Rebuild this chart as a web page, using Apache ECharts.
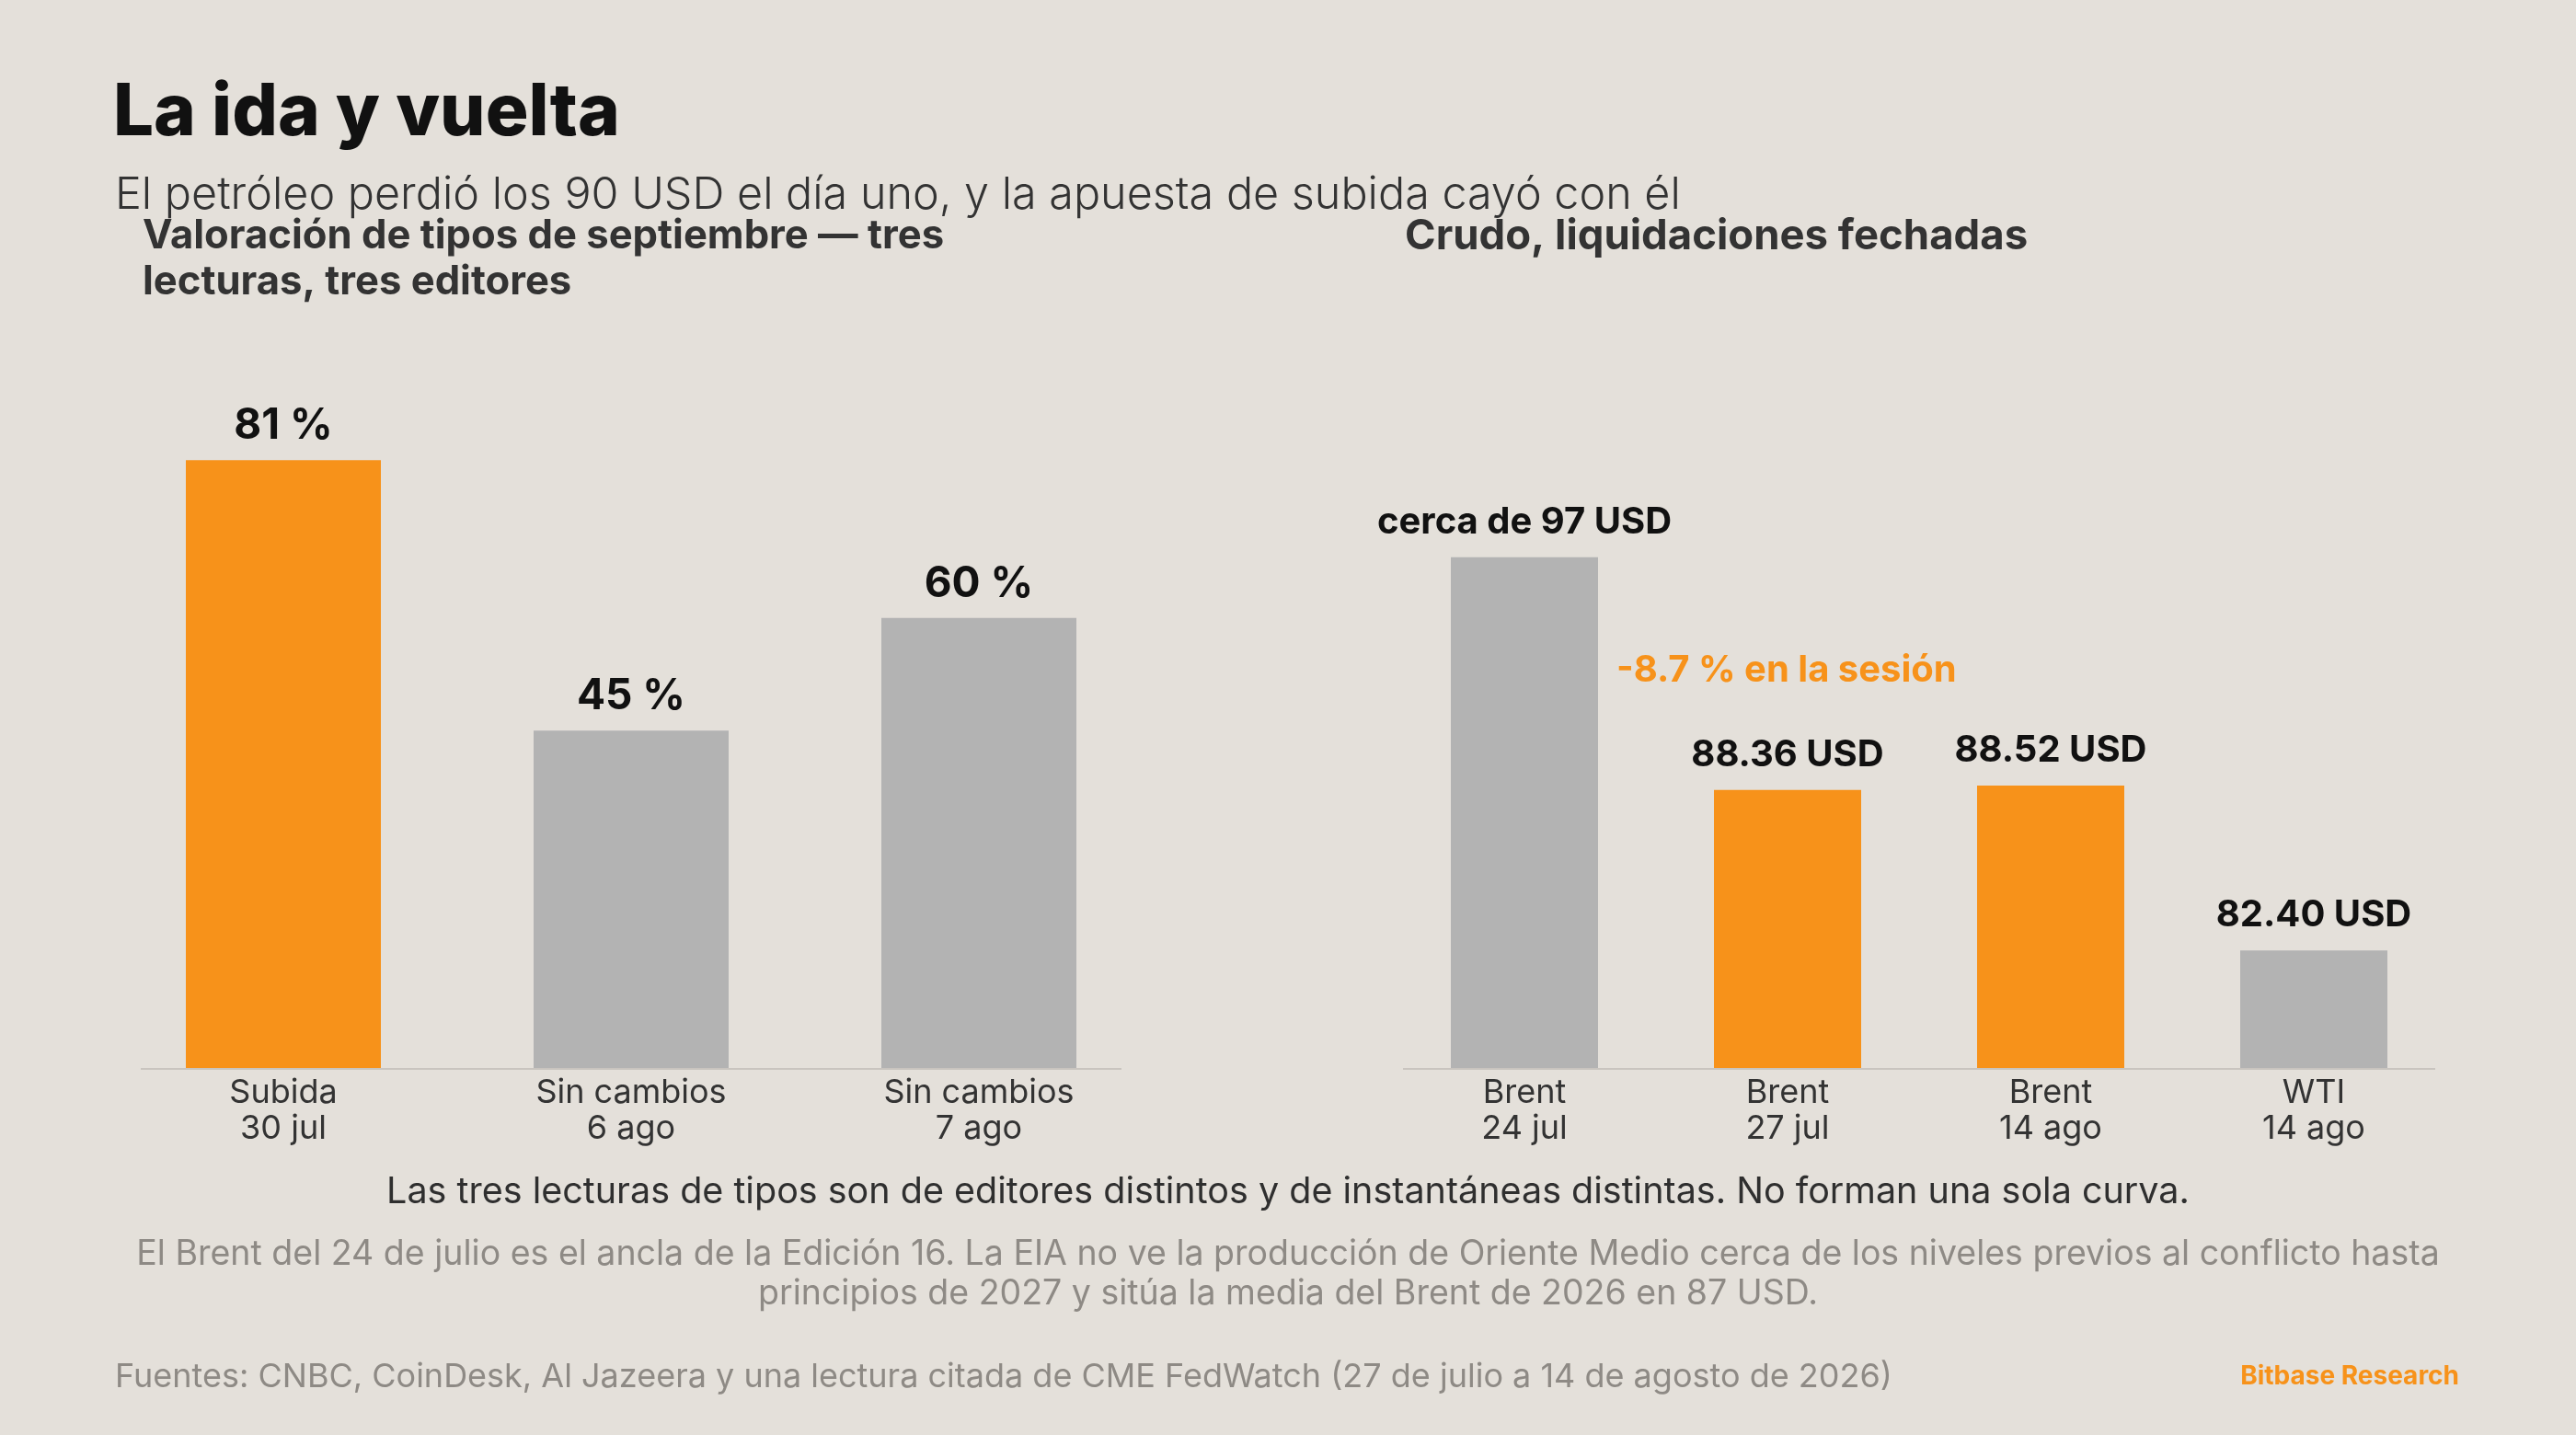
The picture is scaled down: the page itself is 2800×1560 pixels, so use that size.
<!DOCTYPE html>
<html><head><meta charset="utf-8">
<script src="https://cdn.jsdelivr.net/npm/echarts@6/dist/echarts.min.js"></script>
<style>html,body{margin:0;padding:0;background:#e4e0da;}#c{width:2800px;height:1560px;}</style>
</head><body><div id="c"></div>
<script>
// ---- data ----
const rateCategories = ['Subida\n30 jul', 'Sin cambios\n6 ago', 'Sin cambios\n7 ago'];
const rateValues = [81, 45, 60];
const rateLabels = ['81 %', '45 %', '60 %'];
const rateHighlight = [true, false, false];

const oilCategories = ['Brent\n24 jul', 'Brent\n27 jul', 'Brent\n14 ago', 'WTI\n14 ago'];
const oilValues = [97, 88.36, 88.52, 82.40];
const oilLabels = ['cerca de 97 USD', '88.36 USD', '88.52 USD', '82.40 USD'];
const oilHighlight = [false, true, true, false];

const ORANGE = '#f7921a', GREY = '#b3b3b3', FONT = 'Inter, "Noto Sans", sans-serif';
const AXISCOL = '#c9c4bf';

const chart = echarts.init(document.getElementById('c'));
const mk = (vals, labels, hi) => vals.map((v, i) => ({
  value: v,
  itemStyle: { color: hi[i] ? ORANGE : GREY },
  label: { formatter: labels[i] }
}));

chart.setOption({
  backgroundColor: '#e4e0da',
  textStyle: { fontFamily: FONT },
  animation: false,
  title: [
    { text: 'La ida y vuelta', left: 123, top: 85, padding: 0,
      textStyle: { fontSize: 78, fontWeight: 800, color: '#111', lineHeight: 78, fontFamily: FONT } },
    { text: 'El petróleo perdió los 90 USD el día uno, y la apuesta de subida cayó con él', left: 125, top: 188, padding: 0,
      textStyle: { fontSize: 48.5, fontWeight: 300, color: '#333', lineHeight: 48, fontFamily: FONT } },
    { text: 'Valoración de tipos de septiembre — tres\nlecturas, tres editores', left: 155, top: 232, padding: 0,
      textStyle: { fontSize: 43.6, fontWeight: 'bold', color: '#333', lineHeight: 50, fontFamily: FONT } },
    { text: 'Crudo, liquidaciones fechadas', left: 1527, top: 232, padding: 0,
      textStyle: { fontSize: 45.5, fontWeight: 'bold', color: '#333', lineHeight: 50, fontFamily: FONT } }
  ],
  grid: [
    { left: 119, width: 1134, top: 345, bottom: 398 },
    { left: 1514, width: 1144, top: 518, bottom: 398 }
  ],
  xAxis: [
    { type: 'category', gridIndex: 0, data: rateCategories,
      axisLine: { show: false }, axisTick: { show: false },
      axisLabel: { fontSize: 36, color: '#333', lineHeight: 39, margin: 7, fontFamily: FONT } },
    { type: 'category', gridIndex: 1, data: oilCategories,
      axisLine: { show: false }, axisTick: { show: false },
      axisLabel: { fontSize: 36, color: '#333', lineHeight: 39, margin: 7, fontFamily: FONT } }
  ],
  yAxis: [
    { type: 'value', gridIndex: 0, min: 0, max: 100, show: false, splitLine: { show: false } },
    { type: 'value', gridIndex: 1, min: 78, max: 100, show: false, splitLine: { show: false } }
  ],
  series: [
    { type: 'bar', xAxisIndex: 0, yAxisIndex: 0, barWidth: 212,
      data: mk(rateValues, rateLabels, rateHighlight),
      label: { show: true, position: 'top', distance: 14, fontSize: 46, fontWeight: 'bold', color: '#111', fontFamily: FONT } },
    { type: 'bar', xAxisIndex: 1, yAxisIndex: 1, barWidth: 160,
      data: mk(oilValues, oilLabels, oilHighlight),
      label: { show: true, position: 'top', distance: 18, fontSize: 40, fontWeight: 'bold', color: '#111', fontFamily: FONT } }
  ],
  graphic: [
    { type: 'line', z: 10, shape: { x1: 153, y1: 1162, x2: 1219, y2: 1162 }, style: { stroke: AXISCOL, lineWidth: 2 } },
    { type: 'line', z: 10, shape: { x1: 1525, y1: 1162, x2: 2647, y2: 1162 }, style: { stroke: AXISCOL, lineWidth: 2 } },
    { type: 'text', left: 1757, top: 709,
      style: { text: '-8.7 % en la sesión', fontSize: 40, fontWeight: 'bold', fill: ORANGE, fontFamily: FONT } },
    { type: 'text', x: 1400, y: 1296,
      style: { text: 'Las tres lecturas de tipos son de editores distintos y de instantáneas distintas. No forman una sola curva.',
        fontSize: 39.5, fill: '#2f2f2f', align: 'center', verticalAlign: 'middle', fontFamily: FONT } },
    { type: 'text', x: 1400, y: 1385,
      style: { text: 'El Brent del 24 de julio es el ancla de la Edición 16. La EIA no ve la producción de Oriente Medio cerca de los niveles previos al conflicto hasta\nprincipios de 2027 y sitúa la media del Brent de 2026 en 87 USD.',
        fontSize: 37.5, lineHeight: 43, fill: '#8e8a85', align: 'center', verticalAlign: 'middle', fontFamily: FONT } },
    { type: 'text', x: 125, y: 1497,
      style: { text: 'Fuentes: CNBC, CoinDesk, Al Jazeera y una lectura citada de CME FedWatch (27 de julio a 14 de agosto de 2026)',
        fontSize: 36, fill: '#8e8a85', align: 'left', verticalAlign: 'middle', fontFamily: FONT } },
    { type: 'text', x: 2673, y: 1497,
      style: { text: 'Bitbase Research', fontSize: 28, fontWeight: 'bold', fill: ORANGE, align: 'right', verticalAlign: 'middle', fontFamily: FONT } }
  ]
});
</script></body></html>
